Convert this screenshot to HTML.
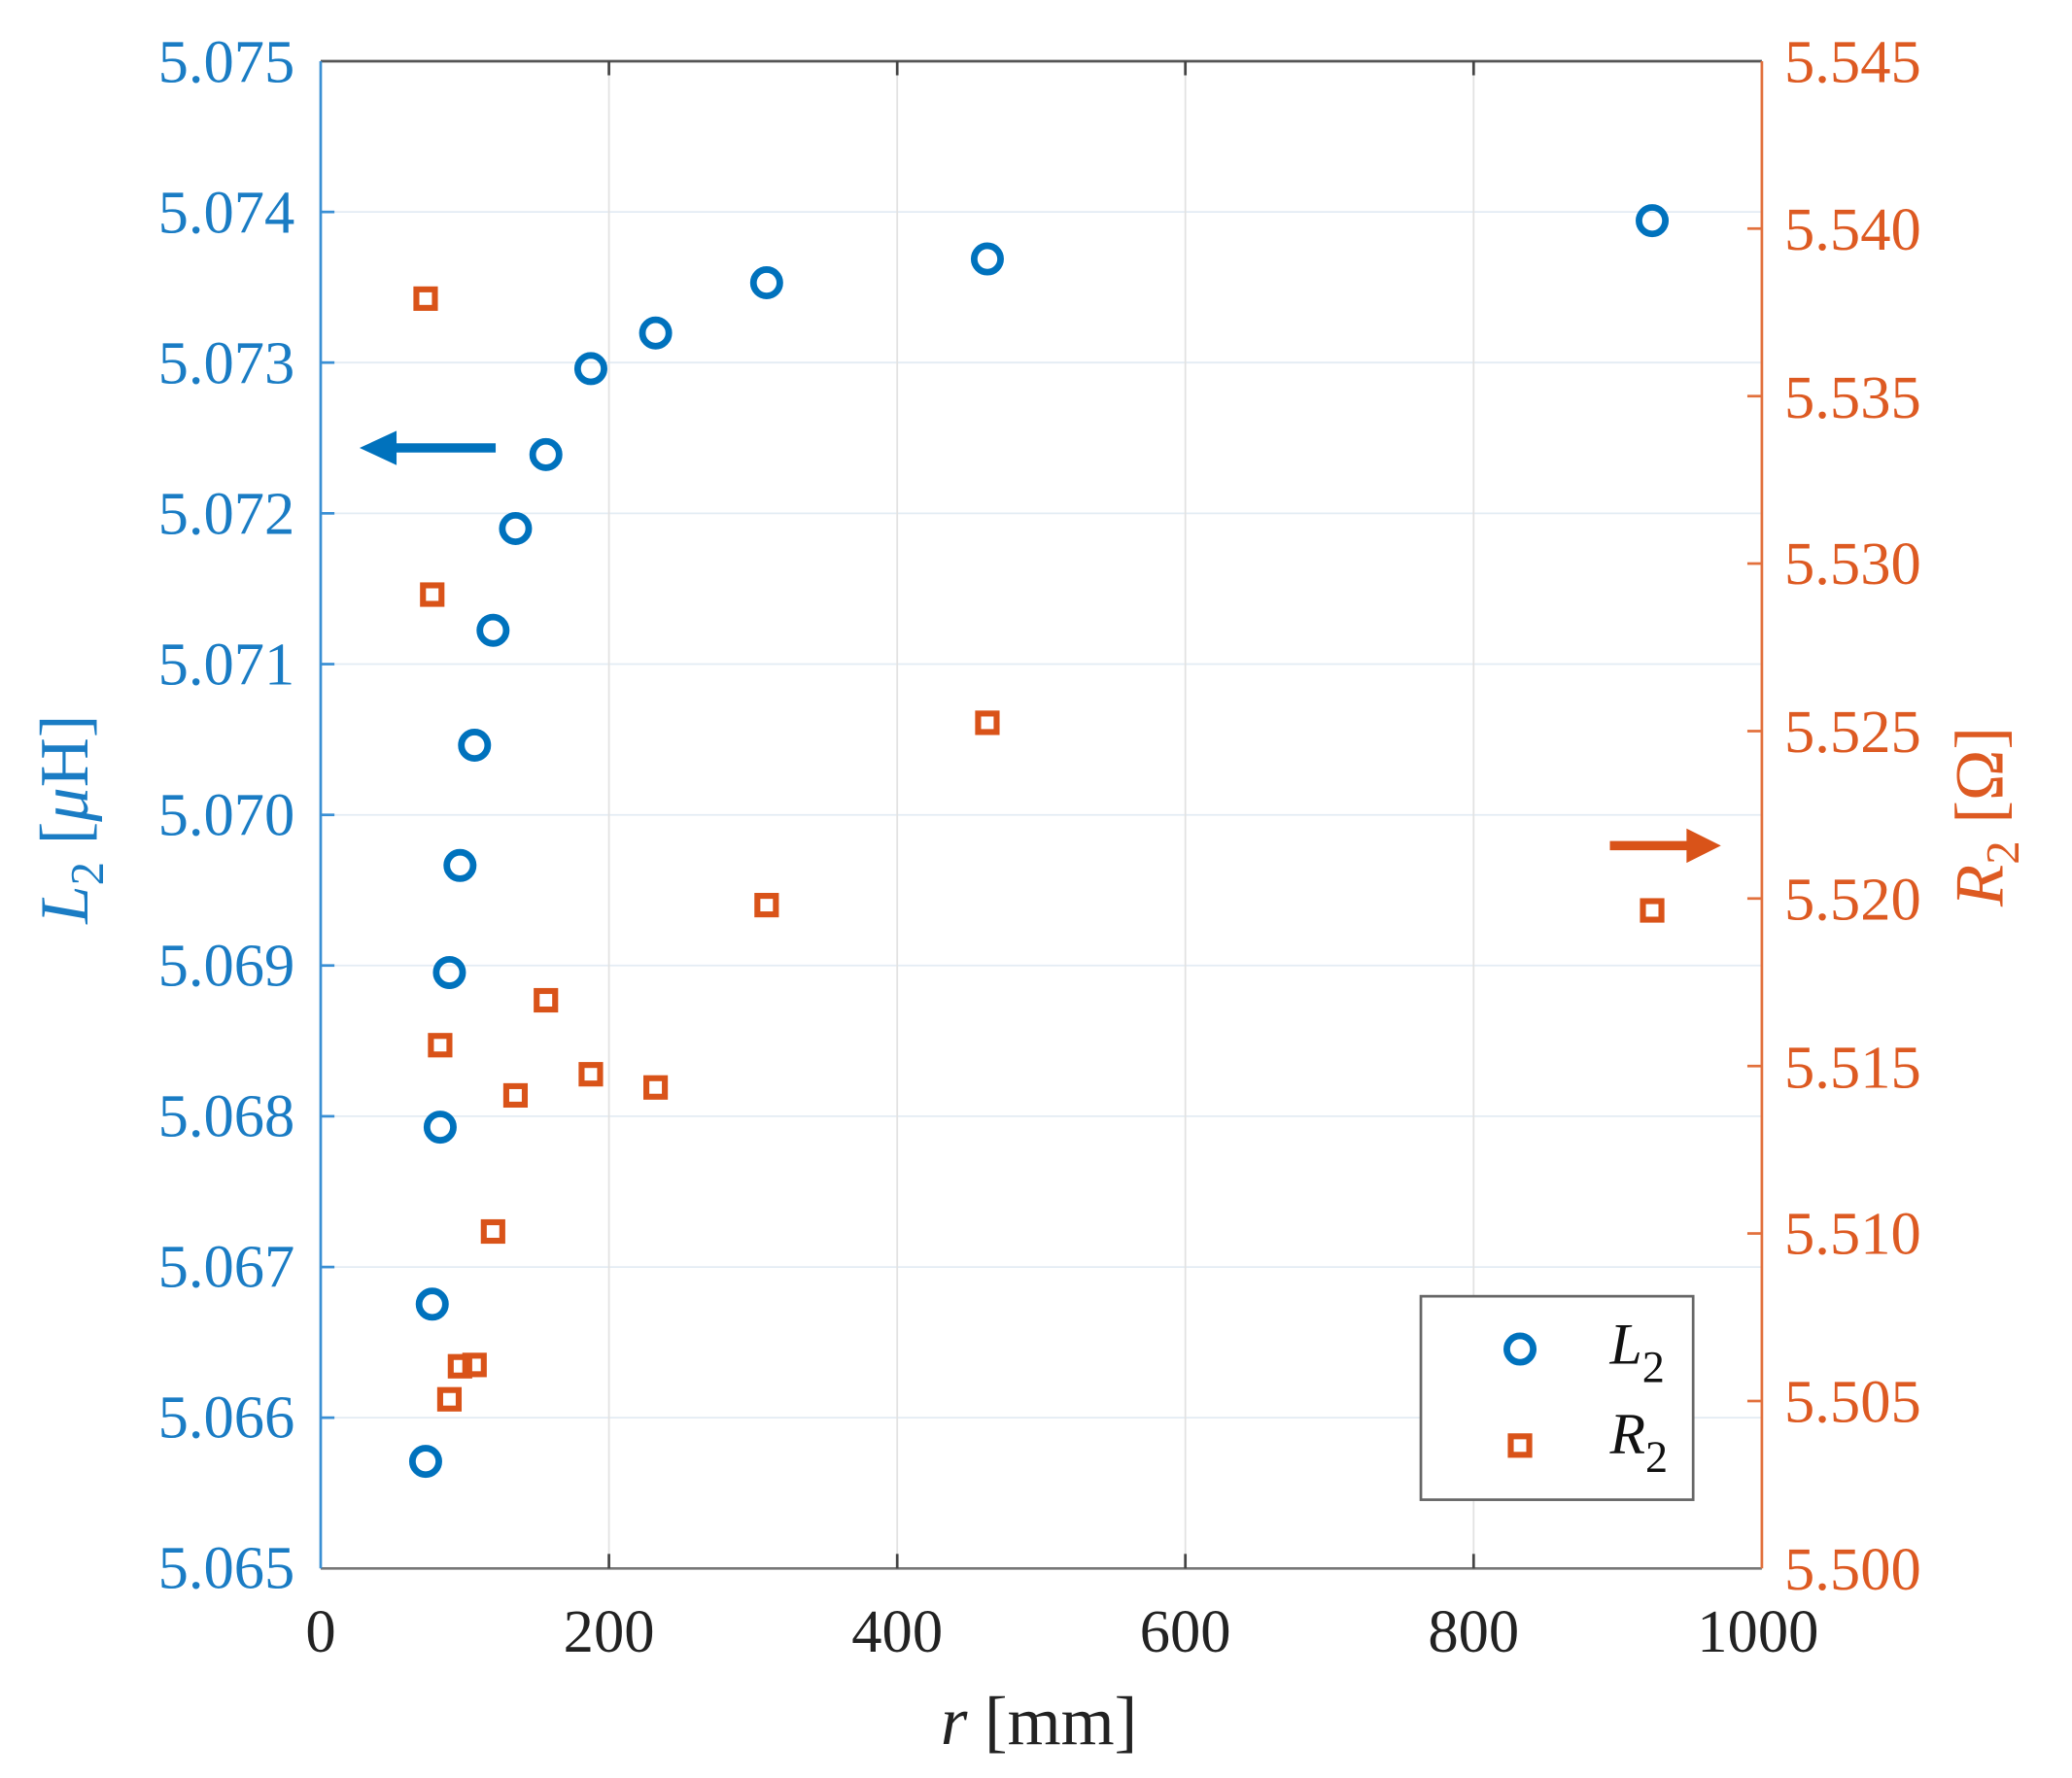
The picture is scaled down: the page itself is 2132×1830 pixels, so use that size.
<!DOCTYPE html>
<html><head><meta charset="utf-8"><style>html,body{margin:0;padding:0;background:#fff}svg{display:block}</style></head>
<body>
<svg width="2132" height="1830" viewBox="0 0 1567.6 1345.6" xmlns="http://www.w3.org/2000/svg" font-family="'Liberation Serif', 'Times New Roman', serif">
<rect width="1567.6" height="1345.6" fill="#fff"/>
<g stroke="#e3ecf4" stroke-width="1.3">
<line x1="242.6" x2="1333" y1="160.4" y2="160.4"/><line x1="242.6" x2="1333" y1="274.4" y2="274.4"/>
<line x1="242.6" x2="1333" y1="388.5" y2="388.5"/><line x1="242.6" x2="1333" y1="502.6" y2="502.6"/>
<line x1="242.6" x2="1333" y1="616.7" y2="616.7"/><line x1="242.6" x2="1333" y1="730.7" y2="730.7"/>
<line x1="242.6" x2="1333" y1="844.8" y2="844.8"/><line x1="242.6" x2="1333" y1="958.9" y2="958.9"/>
<line x1="242.6" x2="1333" y1="1072.9" y2="1072.9"/>
</g>
<g stroke="#e2e2e2" stroke-width="1.3">
<line x1="460.7" x2="460.7" y1="46.3" y2="1187"/><line x1="678.8" x2="678.8" y1="46.3" y2="1187"/>
<line x1="896.8" x2="896.8" y1="46.3" y2="1187"/><line x1="1114.9" x2="1114.9" y1="46.3" y2="1187"/>
</g>
<line x1="242.6" x2="1333" y1="46.3" y2="46.3" stroke="#555" stroke-width="2"/>
<line x1="242.6" x2="1333" y1="1187" y2="1187" stroke="#777" stroke-width="2"/>
<line x1="242.6" x2="242.6" y1="46.3" y2="1187" stroke="#3a8fd4" stroke-width="2"/>
<line x1="1333" x2="1333" y1="46.3" y2="1187" stroke="#e2703c" stroke-width="2"/>
<g stroke="#444" stroke-width="2">
<line x1="460.7" x2="460.7" y1="46.3" y2="57"/><line x1="678.8" x2="678.8" y1="46.3" y2="57"/><line x1="896.8" x2="896.8" y1="46.3" y2="57"/><line x1="1114.9" x2="1114.9" y1="46.3" y2="57"/>
<line x1="460.7" x2="460.7" y1="1187" y2="1176"/><line x1="678.8" x2="678.8" y1="1187" y2="1176"/><line x1="896.8" x2="896.8" y1="1187" y2="1176"/><line x1="1114.9" x2="1114.9" y1="1187" y2="1176"/>
</g>
<g stroke="#3a8fd4" stroke-width="2">
<line x1="242.6" x2="253" y1="160.4" y2="160.4"/><line x1="242.6" x2="253" y1="274.4" y2="274.4"/><line x1="242.6" x2="253" y1="388.5" y2="388.5"/><line x1="242.6" x2="253" y1="502.6" y2="502.6"/><line x1="242.6" x2="253" y1="616.7" y2="616.7"/><line x1="242.6" x2="253" y1="730.7" y2="730.7"/><line x1="242.6" x2="253" y1="844.8" y2="844.8"/><line x1="242.6" x2="253" y1="958.9" y2="958.9"/><line x1="242.6" x2="253" y1="1072.9" y2="1072.9"/>
</g>
<g stroke="#e2703c" stroke-width="2">
<line x1="1333" x2="1322" y1="173" y2="173"/><line x1="1333" x2="1322" y1="299.8" y2="299.8"/><line x1="1333" x2="1322" y1="426.5" y2="426.5"/><line x1="1333" x2="1322" y1="553.3" y2="553.3"/><line x1="1333" x2="1322" y1="680" y2="680"/><line x1="1333" x2="1322" y1="806.8" y2="806.8"/><line x1="1333" x2="1322" y1="933.5" y2="933.5"/><line x1="1333" x2="1322" y1="1060.3" y2="1060.3"/>
</g>
<g fill="#1a7cc4" font-size="46" text-anchor="end">
<text x="223" y="62">5.075</text><text x="223" y="176">5.074</text><text x="223" y="290">5.073</text><text x="223" y="404">5.072</text><text x="223" y="518">5.071</text><text x="223" y="632">5.070</text><text x="223" y="746">5.069</text><text x="223" y="860">5.068</text><text x="223" y="974">5.067</text><text x="223" y="1088">5.066</text><text x="223" y="1202">5.065</text>
</g>
<g fill="#dd5a22" font-size="46">
<text x="1350" y="62">5.545</text><text x="1350" y="189">5.540</text><text x="1350" y="316">5.535</text><text x="1350" y="442">5.530</text><text x="1350" y="569">5.525</text><text x="1350" y="696">5.520</text><text x="1350" y="823">5.515</text><text x="1350" y="949">5.510</text><text x="1350" y="1076">5.505</text><text x="1350" y="1203">5.500</text>
</g>
<g fill="#222" font-size="46" text-anchor="middle">
<text x="242.6" y="1250">0</text><text x="460.7" y="1250">200</text><text x="678.8" y="1250">400</text><text x="896.8" y="1250">600</text><text x="1114.9" y="1250">800</text><text x="1330" y="1250">1000</text>
</g>
<text x="786" y="1320" font-size="52" fill="#222" text-anchor="middle"><tspan font-style="italic">r</tspan> [mm]</text>
<text transform="translate(66,620) rotate(-90)" font-size="52" fill="#1a7cc4" text-anchor="middle"><tspan font-style="italic">L</tspan><tspan font-size="36" dy="12">2</tspan><tspan dy="-12"> [</tspan><tspan font-style="italic">μ</tspan>H]</text>
<text transform="translate(1515,618) rotate(-90)" font-size="52" fill="#dd5a22" text-anchor="middle"><tspan font-style="italic">R</tspan><tspan font-size="36" dy="12">2</tspan><tspan dy="-12"> [Ω]</tspan></text>
<line x1="375" x2="295" y1="339" y2="339" stroke="#0072BD" stroke-width="7"/>
<polygon points="272,339 300,326 300,352" fill="#0072BD"/>
<line x1="1218" x2="1280" y1="640" y2="640" stroke="#D95319" stroke-width="7"/>
<polygon points="1302,640 1276,627 1276,653" fill="#D95319"/>
<g fill="none" stroke="#0072BD" stroke-width="5">
<circle cx="322" cy="1106" r="10"/><circle cx="327" cy="987" r="10"/><circle cx="333" cy="853" r="10"/><circle cx="340" cy="736" r="10"/><circle cx="348" cy="655" r="10"/><circle cx="359" cy="564" r="10"/><circle cx="373" cy="477" r="10"/><circle cx="390" cy="400" r="10"/><circle cx="413" cy="344" r="10"/><circle cx="447" cy="279" r="10"/><circle cx="496" cy="252" r="10"/><circle cx="580" cy="214" r="10"/><circle cx="747" cy="196" r="10"/><circle cx="1250" cy="167" r="10"/>
</g>
<g fill="none" stroke="#D95319" stroke-width="4.5">
<rect x="315" y="219" width="14" height="14"/><rect x="320" y="443" width="14" height="14"/><rect x="326" y="784" width="14" height="14"/><rect x="333" y="1052" width="14" height="14"/><rect x="341" y="1027" width="14" height="14"/><rect x="352" y="1026" width="14" height="14"/><rect x="366" y="925" width="14" height="14"/><rect x="383" y="822" width="14" height="14"/><rect x="406" y="750" width="14" height="14"/><rect x="440" y="806" width="14" height="14"/><rect x="489" y="816" width="14" height="14"/><rect x="573" y="678" width="14" height="14"/><rect x="740" y="540" width="14" height="14"/><rect x="1243" y="682" width="14" height="14"/>
</g>
<rect x="1075" y="981" width="206" height="154" fill="#fff" stroke="#666" stroke-width="2"/>
<circle cx="1150" cy="1021" r="10" fill="none" stroke="#0072BD" stroke-width="5"/>
<rect x="1143" y="1087" width="14" height="14" fill="none" stroke="#D95319" stroke-width="4.5"/>
<g font-size="44" fill="#111" font-style="italic">
<text x="1218" y="1032">L<tspan font-style="normal" font-size="34" dy="14">2</tspan></text>
<text x="1218" y="1100">R<tspan font-style="normal" font-size="34" dy="14">2</tspan></text>
</g>
</svg>
</body></html>
